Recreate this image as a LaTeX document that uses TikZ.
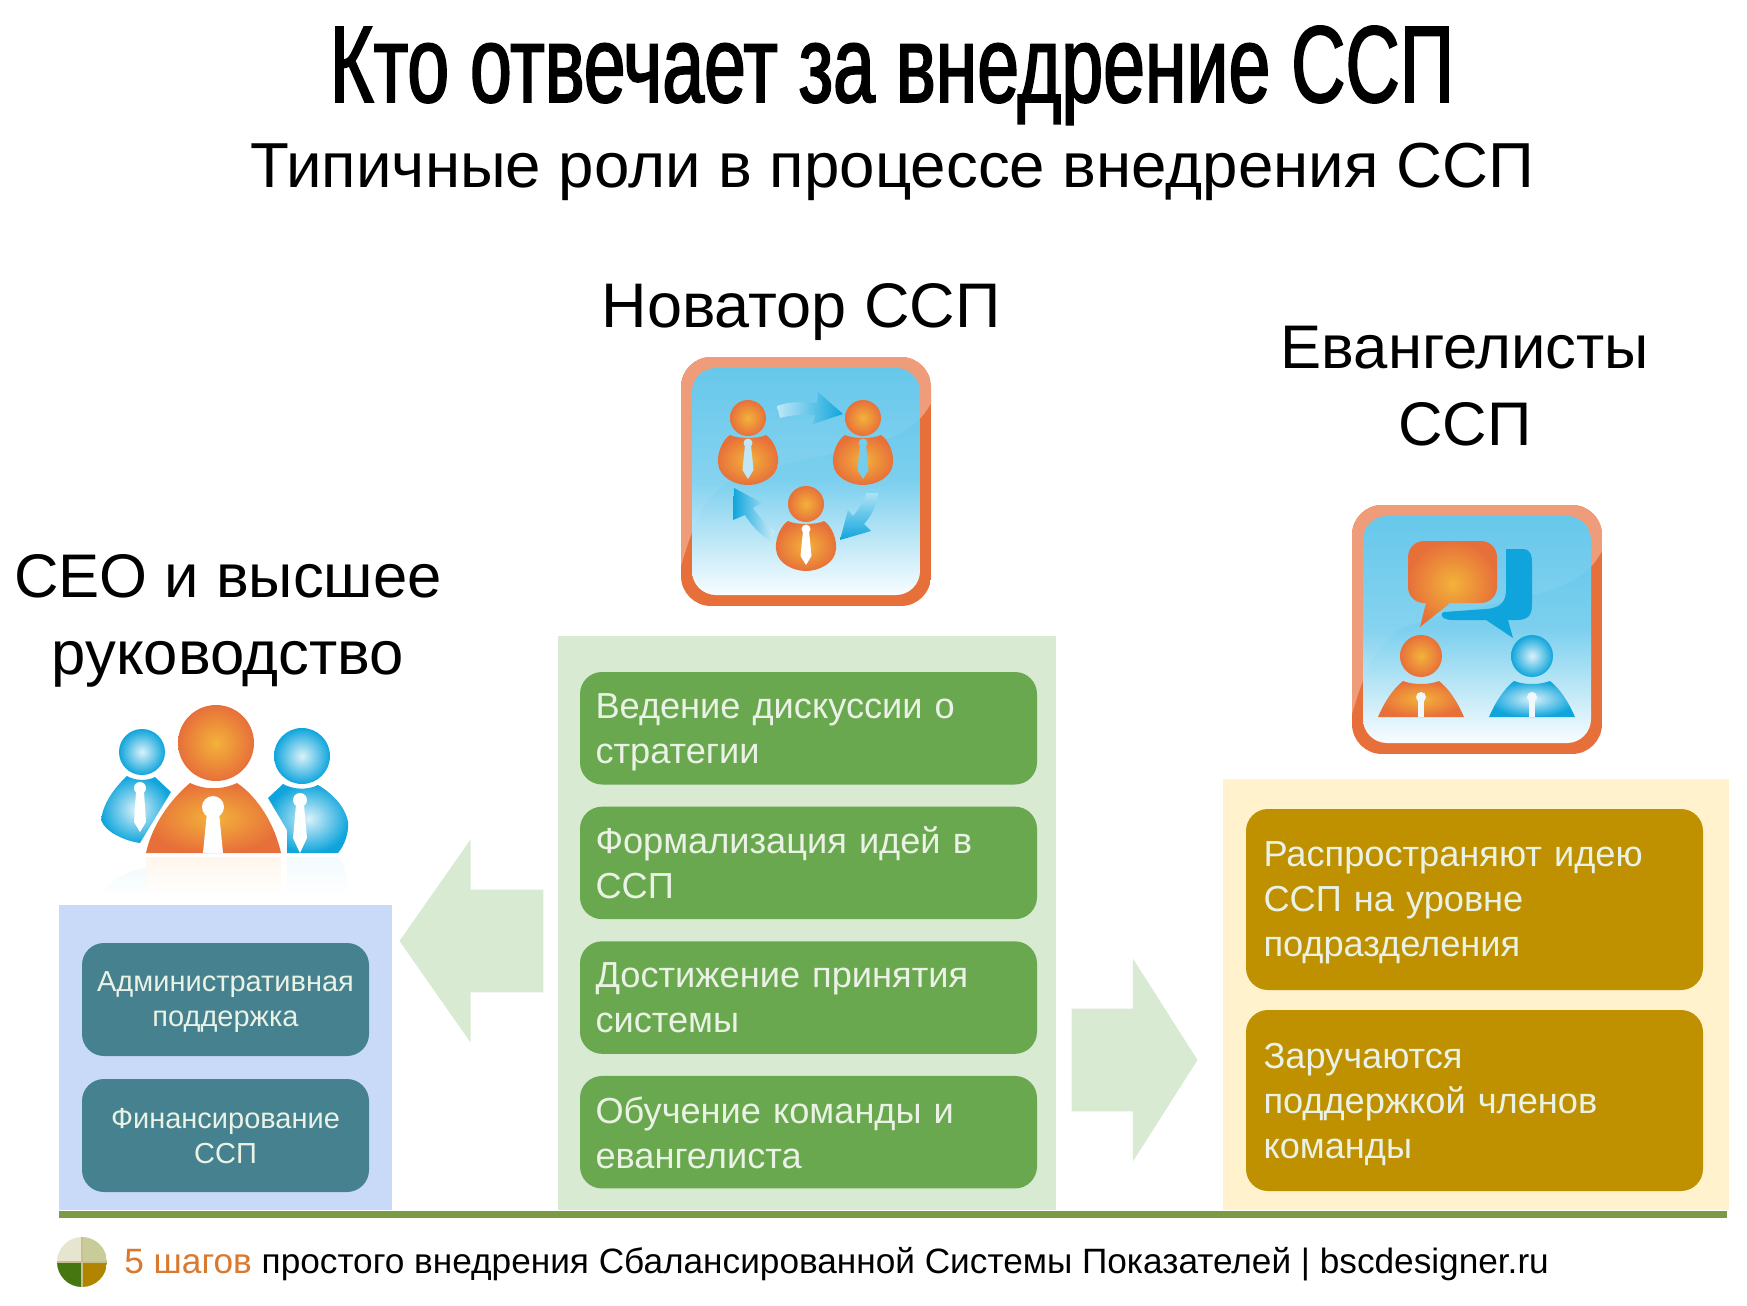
\documentclass[tikz,border=0pt]{standalone}
\usepackage{fontspec}
\setmainfont{Liberation Sans}
\newfontfamily\titlefont[FakeStretch=0.69,FakeBold=1.6]{Liberation Sans}
\usetikzlibrary{positioning, shapes.arrows}
\definecolor{panelgreen}{HTML}{D9EAD3}
\definecolor{panelblue}{HTML}{C9DAF8}
\definecolor{panelyellow}{HTML}{FFF2CC}
\definecolor{boxgreen}{HTML}{6AA84F}
\definecolor{boxteal}{HTML}{45818E}
\definecolor{boxgold}{HTML}{BF9000}
\definecolor{baseline}{HTML}{7A9A45}
\definecolor{softwhite}{HTML}{EAF2E6}
\definecolor{stepsorange}{HTML}{D9782F}
\definecolor{framelight}{HTML}{EE9C7A}
\definecolor{framedark}{HTML}{E7703A}
\definecolor{arrowblue}{HTML}{0FA5DC}
\definecolor{skytop}{HTML}{5CC4EA}
\definecolor{manglow}{HTML}{F3B23A}
\definecolor{discpale}{HTML}{E6E6D0}
\definecolor{discsage}{HTML}{C9CC98}
\definecolor{discgreen}{HTML}{45760F}
\definecolor{discgold}{HTML}{B28500}
\definecolor{disccross}{HTML}{C8BE90}
\tikzset{
    orangeshade/.style={inner color=manglow, outer color=framedark},
    blueshade/.style={inner color=white!85!arrowblue, outer color=arrowblue},
    pics/frame/.style={code={
        \begin{scope}
            \clip[rounded corners=15pt] (0,0) rectangle (250,249);
            \fill[framedark] (0,0) rectangle (250,249);
            \fill[framelight] (0,0) -- (0,209) .. controls (12,169) and (22,139) .. (52,122) .. controls (90,108) and (160,96) .. (196,86) .. controls (225,76) and (240,65) .. (250,46) -- (250,0) -- cycle;
        \end{scope}
        \begin{scope}
            \clip[rounded corners=12pt] (11,11) rectangle (239,238);
            \shade[top color=skytop, bottom color=skytop!4!white, middle color=skytop!80!white] (11,11) rectangle (239,238);
            \fill[white, opacity=.07] (0,0) -- (0,209) .. controls (12,169) and (22,139) .. (52,122) .. controls (90,108) and (160,96) .. (196,86) .. controls (225,76) and (240,65) .. (250,46) -- (250,0) -- cycle;
        \end{scope}
    }},
    pics/tieman/.style={code={
        \shade[orangeshade] (0,0) circle (18);
        \shade[orangeshade] (-18,17) .. controls (-10,21) and (10,21) .. (18,17) .. controls (26,22) and (31,36) .. (30,45) .. controls (29,60) and (12,67) .. (0,67) .. controls (-12,67) and (-29,60) .. (-30,45) .. controls (-31,36) and (-26,22) .. (-18,17) -- cycle;
        \fill[#1] (0,25) circle (4.5);
        \fill[#1] (-3,27) -- (-5.5,52) -- (0,61) -- (5.5,52) -- (3,27) -- cycle;
    }},
    pics/dome/.style={code={
        \shade[#1] (0,0) circle (21);
        \shade[#1] (-43,61) .. controls (-36,45) and (-28,33) .. (-18,25) .. controls (-8,29) and (8,29) .. (18,25) .. controls (28,33) and (36,45) .. (43,61) -- cycle;
        \fill[white!90!skytop] (0,41) circle (5);
        \fill[white!90!skytop] (-3,43) rectangle (3,61);
    }}
}
\begin{document}
\begin{tikzpicture}[
        x=0.5pt, y=-0.5pt,
        panel/.style={rectangle, inner sep=0pt, anchor=north west},
        roundbox/.style={rectangle, rounded corners=11pt, inner sep=0pt, outer sep=0pt, font=\fontsize{18.1}{22.5}\selectfont, text=softwhite},
        gbox/.style={roundbox, fill=boxgreen, minimum width=228.5pt, minimum height=56.25pt, align=left, text width=213pt},
        tbox/.style={roundbox, fill=boxteal, minimum width=143.5pt, minimum height=56.5pt, align=center, text width=140pt, font=\fontsize{14.5}{17.5}\selectfont},
        ybox/.style={roundbox, fill=boxgold, minimum width=228.5pt, minimum height=90.5pt, align=left, text width=211pt},
        head/.style={font=\fontsize{30.8}{38.5}\selectfont, align=center},
        blockarr/.style={single arrow, fill=panelgreen, inner xsep=0pt, inner ysep=25.5pt, minimum width=101.5pt, single arrow head extend=25pt, anchor=tip}
    ]
    \useasboundingbox (0,0) rectangle (1747,1306);
    \node[font=\titlefont\fontsize{54.5}{60}\selectfont, anchor=base] (title) at (892,102) {Кто отвечает за внедрение ССП};
    \node[font=\fontsize{31.8}{38}\selectfont, anchor=base] (subtitle) at (892,187) {Типичные роли в процессе внедрения ССП};

    \node[head, font=\fontsize{31.5}{38.5}\selectfont, anchor=base] (novhead) at (801,327) {Новатор ССП};
    \node[head] (evanhead) at (1465,386) {Евангелисты\\ ССП};
    \node[head] (ceohead) at (228,621) {CEO и высшее\\ руководство};

    \node[panel, fill=panelblue, minimum width=166.5pt, minimum height=152.5pt] (ceopanel) at (59,905) {};
    \node[panel, fill=panelgreen, minimum width=249pt, minimum height=287pt] (novpanel) at (558,636) {};
    \node[panel, fill=panelyellow, minimum width=253pt, minimum height=215.5pt] (evanpanel) at (1223,779) {};
    \node[panel, fill=baseline, minimum width=834pt, minimum height=3.5pt] (baserule) at (59,1211) {};

    \node[gbox, anchor=north west] (discuss) at (580,672) {Ведение дискуссии о\\ \smash{стратегии}};
    \node[gbox, below=11.08pt of discuss] (formal) {Формализация идей в\\ \smash{ССП}};
    \node[gbox, below=11.08pt of formal] (accept) {Достижение принятия\\ \smash{системы}};
    \node[gbox, below=11.08pt of accept] (train) {Обучение команды и\\ \smash{евангелиста}};

    \node[tbox, anchor=north west] (admin) at (82,943) {Административная\\ \smash{поддержка}};
    \node[tbox, below=11.5pt of admin] (finance) {Финансирование\\ \smash{ССП}};

    \node[ybox, anchor=north west] (spread) at (1246,809) {Распространяют идею\\ ССП на уровне\\ \smash{подразделения}};
    \node[ybox, below=10pt of spread] (support) {Заручаются\\ поддержкой членов\\ \smash{команды}};

    \node[blockarr, shape border rotate=180, minimum height=72pt, single arrow tip angle=110] (arrowceo) at (399,941) {};
    \node[blockarr, minimum height=63pt, single arrow tip angle=115] (arrowevan) at (1198,1060) {};

    % icon of the innovator
    \pic at (681,357) {frame};
    \begin{scope}[shift={(681,357)}]
        \pic at (67,61) {tieman=white!60!skytop};
        \pic at (182,61) {tieman=white!15!skytop};
        \pic at (125,147) {tieman=white};
        \shade[left color=skytop!40!white, right color=arrowblue] (96,49) .. controls (110,44) and (124,45) .. (136,46) -- (137,35) -- (162,57) -- (132,67) -- (134,58) .. controls (122,57) and (110,58) .. (99,61) -- cycle;
        \shade[top color=skytop!50!white, bottom color=arrowblue] (197,136) .. controls (196,148) and (191,158) .. (183,167) -- (190,174) -- (159,183) -- (167,153) -- (172,159) .. controls (178,152) and (183,145) .. (185,136) -- cycle;
        \shade[left color=arrowblue, right color=skytop!30!white] (94,174) .. controls (86,168) and (78,160) .. (72,151) -- (81,146) -- (53,131) -- (52,163) -- (64,158) .. controls (70,168) and (79,177) .. (89,184) -- cycle;
    \end{scope}

    % icon of the evangelists
    \pic at (1352,505) {frame};
    \begin{scope}[shift={(1352,505)}]
        \fill[arrowblue] (154,44) -- (170,44) .. controls (180,44) and (180,52) .. (180,60) -- (180,100) .. controls (180,110) and (176,115) .. (165,115) -- (156,115) -- (161,133) -- (134,115) -- (100,115) .. controls (92,115) and (86,110) .. (92,107) -- (134,104) .. controls (150,103) and (154,95) .. (154,85) -- cycle;
        \shade[orangeshade, rounded corners=8pt] (56,36) -- (145,36) -- (145,98) [sharp corners] -- (98,98) -- (68,122) -- (74,98) [rounded corners=8pt] -- (56,98) -- cycle;
        \pic at (69,151) {dome=orangeshade};
        \pic at (180,151) {dome=blueshade};
    \end{scope}

    % group of managers
    \shade[top color=orange!7!white, bottom color=white] (146,857) rectangle (281,897);
    \shade[top color=skytop!8!white, bottom color=white] (146,868) .. controls (125,870) and (105,885) .. (100,897) -- (146,897) -- cycle;
    \shade[top color=skytop!8!white, bottom color=white] (287,857) -- (338,857) .. controls (345,865) and (349,880) .. (348,897) -- (287,897) -- cycle;
    \shade[blueshade] (142,752) circle (23);
    \shade[blueshade] (127,776) .. controls (112,790) and (103,805) .. (101,820) .. controls (105,832) and (125,841) .. (140,843) -- (171,792) -- (155,777) .. controls (148,781) and (135,781) .. (127,776) -- cycle;
    \fill[white] (140,788) circle (6);
    \fill[white] (136,792) -- (134,822) -- (140,832) -- (146,822) -- (144,792) -- cycle;
    \shade[blueshade] (302,756) circle (28);
    \shade[blueshade] (283,784) -- (268,798) -- (287,830) -- (287,853) -- (338,853) .. controls (345,845) and (349,832) .. (348,822) .. controls (345,805) and (330,792) .. (318,785) .. controls (308,790) and (294,790) .. (283,784) -- cycle;
    \fill[white] (300,800) circle (7);
    \fill[white] (296,805) -- (293,838) -- (300,853) -- (307,838) -- (304,805) -- cycle;
    \shade[orangeshade, preaction={draw=white, line width=3pt}] (146,853) .. controls (152,825) and (170,800) .. (190,783) .. controls (205,790) and (222,790) .. (237,783) .. controls (258,797) and (275,825) .. (281,853) -- cycle;
    \shade[orangeshade] (216,743) circle (38);
    \fill[white] (213,807) circle (11);
    \fill[white] (207,812) -- (203,853) -- (223,853) -- (219,812) -- cycle;

    % footer
    \begin{scope}
        \clip (82,1262) circle (25);
        \fill[discpale] (57,1237) rectangle (82,1262);
        \fill[discsage] (82,1237) rectangle (107,1262);
        \fill[discgreen] (57,1262) rectangle (82,1287);
        \fill[discgold] (82,1262) rectangle (107,1287);
        \draw[disccross, line width=1pt] (57,1262) -- (107,1262) (82,1237) -- (82,1287);
    \end{scope}
    \node[font=\fontsize{17.6}{20}\selectfont, anchor=base west, inner sep=0pt] (footer) at (124,1273) {\textcolor{stepsorange}{5 шагов} простого внедрения Сбалансированной Системы Показателей | bscdesigner.ru};
\end{tikzpicture}
\end{document}
